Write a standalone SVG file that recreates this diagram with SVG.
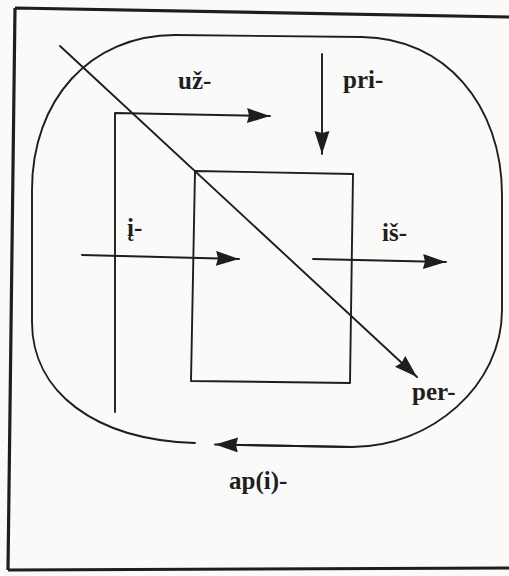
<svg xmlns="http://www.w3.org/2000/svg" width="509" height="576" viewBox="0 0 509 576">
<style>
.ln{fill:none;stroke:#1e1e1e;stroke-width:1.9;stroke-linecap:round;stroke-linejoin:round}
.lbl{font-family:"Liberation Serif","Times New Roman",serif;font-weight:bold;font-size:25px;fill:#1e1e1e}
</style>
<defs>
<marker id="ah" markerUnits="userSpaceOnUse" markerWidth="26" markerHeight="16" refX="23" refY="7.5" orient="auto">
<path d="M0,0 L23,7.5 L0,15 L2,7.5 z" fill="#1e1e1e"/>
</marker>
</defs>
<rect x="0" y="0" width="509" height="576" fill="#fafaf8"/>
<g id="frame">
<path d="M15,8 L509,17 M15,8 L8,570 M8,570 L509,568" fill="none" stroke="#1e1e1e" stroke-width="3.2"/>
</g>
<g id="boundary">
<path class="ln" d="M195,443 C95,440 32,392 32,322 L32,190 C32,100 90,35 175,35 L362,37 C445,38 502,105 502,195 L502,310 C502,385 432,447 352,447 L238,445"/>
</g>
<g id="inner-square">
<path class="ln" d="M195,171 L353,174 L350,383 L191,381 Z"/>
</g>
<g id="connectors">
<path id="uz" class="ln" d="M115,412 L115,113 L270,116" marker-end="url(#ah)"/>
<path id="pri" class="ln" d="M322,54 L322,154" marker-end="url(#ah)"/>
<path id="i" class="ln" d="M82,255 L239,259" marker-end="url(#ah)"/>
<path id="is" class="ln" d="M313,259 L446,262" marker-end="url(#ah)"/>
<path id="per" class="ln" d="M60,46 L417,377" marker-end="url(#ah)"/>
<path id="api" class="ln" d="M352,447 L215,444.5" marker-end="url(#ah)"/>
</g>
<g id="labels">
<text class="lbl" x="178" y="89">už-</text>
<text class="lbl" x="343" y="88">pri-</text>
<text class="lbl" x="127" y="236">į-</text>
<text class="lbl" x="382" y="241">iš-</text>
<text class="lbl" x="412" y="400">per-</text>
<text class="lbl" x="229" y="489">ap(i)-</text>
</g>
</svg>
